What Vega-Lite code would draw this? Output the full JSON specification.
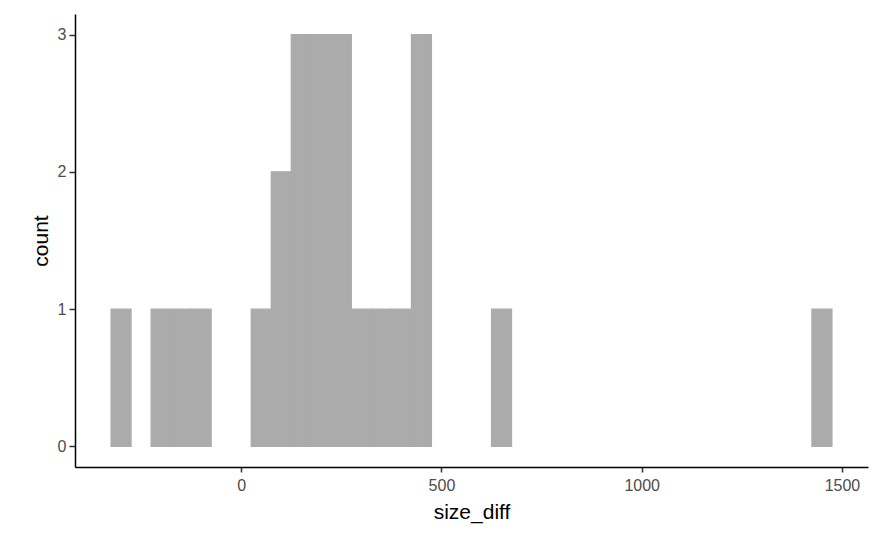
{
  "$schema": "https://vega.github.io/schema/vega-lite/v6.json",
  "width": 793,
  "height": 453,
  "autosize": {"type": "none"},
  "padding": {"left": 75, "top": 14, "right": 7, "bottom": 66},
  "background": "white",
  "config": {
    "view": {"stroke": null},
    "axis": {
      "grid": false,
      "domainColor": "black",
      "domainWidth": 1.5,
      "tickColor": "#333333",
      "tickWidth": 1.5,
      "labelFont": "Liberation Sans",
      "labelFontSize": 16,
      "labelColor": "#4D4D4D",
      "titleFont": "Liberation Sans",
      "titleFontSize": 21,
      "titleFontWeight": "normal",
      "titleColor": "black"
    }
  },
  "data": {
    "values": [
      {"bin_start": -325, "bin_end": -275, "count": 1},
      {"bin_start": -225, "bin_end": -175, "count": 1},
      {"bin_start": -175, "bin_end": -125, "count": 1},
      {"bin_start": -125, "bin_end": -75, "count": 1},
      {"bin_start": 25, "bin_end": 75, "count": 1},
      {"bin_start": 75, "bin_end": 125, "count": 2},
      {"bin_start": 125, "bin_end": 175, "count": 3},
      {"bin_start": 175, "bin_end": 225, "count": 3},
      {"bin_start": 225, "bin_end": 275, "count": 3},
      {"bin_start": 275, "bin_end": 325, "count": 1},
      {"bin_start": 325, "bin_end": 375, "count": 1},
      {"bin_start": 375, "bin_end": 425, "count": 1},
      {"bin_start": 425, "bin_end": 475, "count": 3},
      {"bin_start": 625, "bin_end": 675, "count": 1},
      {"bin_start": 1425, "bin_end": 1475, "count": 1}
    ]
  },
  "mark": {"type": "bar", "color": "#ABABAB", "fill": "#ABABAB", "stroke": "#ABABAB", "strokeWidth": 1.2, "opacity": 1},
  "encoding": {
    "x": {
      "field": "bin_start",
      "type": "quantitative",
      "scale": {"domain": [-415, 1565], "nice": false, "zero": false},
      "axis": {
        "title": "size_diff",
        "values": [0, 500, 1000, 1500],
        "format": "d",
        "tickSize": 5,
        "labelPadding": 5,
        "titlePadding": 8
      }
    },
    "x2": {"field": "bin_end"},
    "y": {
      "field": "count",
      "type": "quantitative",
      "scale": {"domain": [-0.15, 3.15], "nice": false, "zero": false},
      "axis": {
        "title": "count",
        "values": [0, 1, 2, 3],
        "format": "d",
        "tickSize": 6,
        "labelPadding": 3,
        "titlePadding": 6
      }
    },
    "y2": {"datum": 0}
  }
}
